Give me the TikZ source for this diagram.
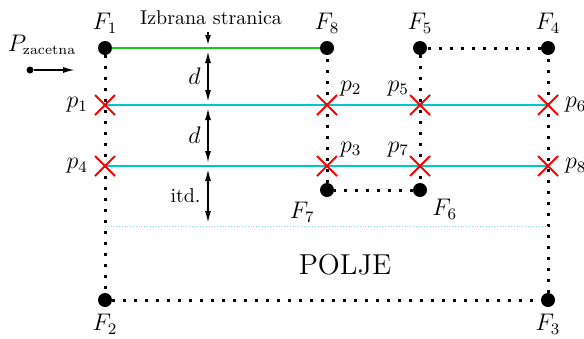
\documentclass[tikz,border=0pt]{standalone}
\usetikzlibrary{arrows.meta,positioning,shapes.misc,backgrounds}
\definecolor{poljeCyan}{RGB}{0,200,200}
\definecolor{poljeGreen}{RGB}{20,200,20}

\begin{document}
\begin{tikzpicture}[
  x=0.5pt,y=-0.5pt,
  every label/.style={font=\large},
  vrh/.style={
    circle,
    fill=black,
    inner sep=0pt,
    minimum size=7pt,
    label distance=0.5pt
  },
  tocka/.style={
    cross out,
    draw=red,
    line width=1pt,
    minimum size=9pt,
    inner sep=0pt,
    label distance=-1pt
  },
  desno/.style={label={[xshift=-2pt,yshift=-4pt]above right:#1}},
  lijevo/.style={label={[xshift=3pt,yshift=-4pt]above left:#1}},
  rub/.style={line width=1.5pt,dash pattern=on 1.5pt off 4pt},
  prava/.style={line width=1.3pt,poljeCyan},
  razmak/.style={{Latex[length=6pt,width=3pt]}-{Latex[length=6pt,width=3pt]},thick}
]
  \useasboundingbox (0,0) rectangle (584,338);

  % vrhovi polja
  \node[vrh,label={above:$F_1$}] (F1) at (105,48) {};
  \node[vrh,label={above:$F_8$}] (F8) at (327,48) {};
  \node[vrh,label={above:$F_5$}] (F5) at (420,48) {};
  \node[vrh,label={above:$F_4$}] (F4) at (548,48) {};
  \node[vrh,label={below left:$F_7$}] (F7) at (327,190) {};
  \node[vrh,label={[yshift=1.5pt]below right:$F_6$}] (F6) at (420,190) {};
  \node[vrh,label={below:$F_2$}] (F2) at (105,300) {};
  \node[vrh,label={below:$F_3$}] (F3) at (548,300) {};

  % presjecista
  \node[tocka,label={left:$p_1$}] (p1) at (105,105) {};
  \node[tocka,desno=$p_2$] (p2) at (327,105) {};
  \node[tocka,lijevo=$p_5$] (p5) at (420,105) {};
  \node[tocka,label={right:$p_6$}] (p6) at (548,105) {};
  \node[tocka,label={left:$p_4$}] (p4) at (105,166) {};
  \node[tocka,desno=$p_3$] (p3) at (327,166) {};
  \node[tocka,lijevo=$p_7$] (p7) at (420,166) {};
  \node[tocka,label={right:$p_8$}] (p8) at (548,166) {};

  \begin{scope}[on background layer]
    \draw[rub] (F1) -- (F2) -- (F3) -- (F4) -- (F5) -- (F6) -- (F7) -- (F8);
    \draw[line width=1.3pt,poljeGreen] (F1) -- (F8);
    \draw[prava] (p1.center) -- (p6.center);
    \draw[prava] (p4.center) -- (p8.center);
  \end{scope}

  % razmaci
  \coordinate (s0) at (208,48);
  \coordinate (s1) at (208,105);
  \coordinate (s2) at (208,166);
  \coordinate (s3) at (208,226);
  \draw[poljeCyan!50,densely dotted] (F1 |- s3) -- (F4 |- s3);
  \node (izbrana) at (211,18) {Izbrana stranica};
  \draw[-{Latex[length=5pt,width=3pt]},thick] (izbrana.south -| s0) -- ([yshift=1.5pt]s0);
  \draw[razmak,shorten <=1.5pt,shorten >=1.5pt] (s0) -- node[left,font=\large]{$d$} (s1);
  \draw[razmak,shorten <=1.5pt,shorten >=1.5pt] (s1) -- node[left,font=\large]{$d$} (s2);
  \draw[razmak,shorten <=1.5pt,shorten >=1.5pt] (s2) -- node[left]{itd.} (s3);

  % pocetna tocka
  \node[font=\large] (Pzac) at (42,45) {$P_{\mbox{\fontsize{7}{8}\selectfont zacetna}}$};
  \node[circle,fill=black,inner sep=0pt,minimum size=3.5pt] (start) at (30,70) {};
  \coordinate (smjer) at (75,70);
  \draw[-{Latex[length=6pt,width=3pt]},thick] (start) -- (smjer);

  \node[font=\Large] (polje) at (345,265) {POLJE};
\end{tikzpicture}
\end{document}
